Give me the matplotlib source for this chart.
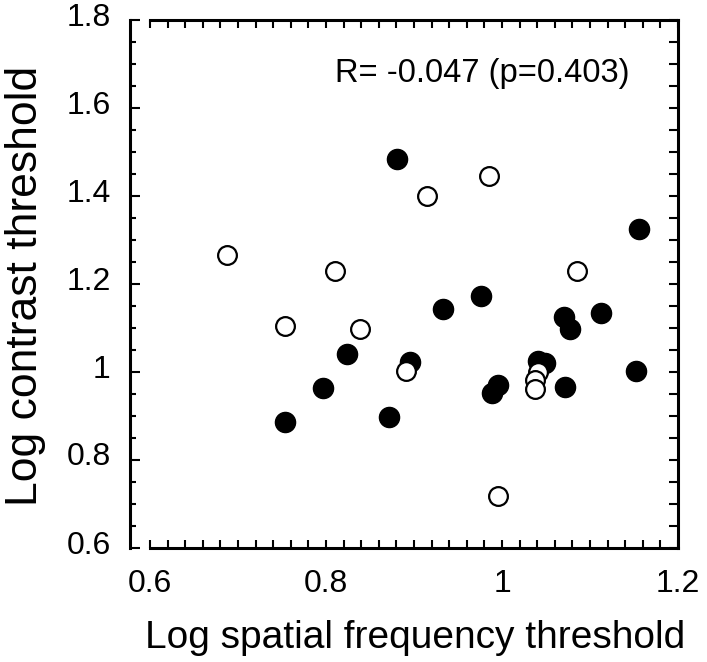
import numpy as np
import matplotlib
matplotlib.use("Agg")
import matplotlib.pyplot as plt
from matplotlib.ticker import MultipleLocator, FixedLocator
from matplotlib.transforms import ScaledTranslation

plt.rcParams["font.family"] = ["Liberation Sans", "DejaVu Sans"]

# filled circles
filled_x = [0.881, 1.156, 0.753, 0.797, 0.824, 0.872, 0.933, 0.976, 0.896,
            0.989, 0.996, 1.071, 1.077, 1.113, 1.041, 1.049, 1.072, 1.152]
filled_y = [1.484, 1.325, 0.886, 0.964, 1.041, 0.898, 1.143, 1.173, 1.023,
            0.952, 0.970, 1.126, 1.097, 1.135, 1.025, 1.020, 0.966, 1.002]

# open circles
open_x = [0.688, 0.753, 0.810, 0.839, 0.915, 0.985, 1.085, 0.891, 0.996,
          1.041, 1.037, 1.037]
open_y = [1.266, 1.105, 1.230, 1.098, 1.400, 1.446, 1.230, 1.002, 0.718,
          1.000, 0.981, 0.961]

x_ticks = [0.6, 0.8, 1.0, 1.2]
x_ticklabels = ["0.6", "0.8", "1", "1.2"]
y_ticks = [0.6, 0.8, 1.0, 1.2, 1.4, 1.6, 1.8]
y_ticklabels = ["0.6", "0.8", "1", "1.2", "1.4", "1.6", "1.8"]

W, H = 707, 662
fig = plt.figure(figsize=(W / 100, H / 100), dpi=100)
ax = fig.add_axes([150 / W, 1 - 548 / H, 528 / W, 528 / H])

ax.plot(filled_x, filled_y, "o", ms=14.5, mfc="black", mec="black", mew=1, zorder=3)
ax.plot(open_x, open_y, "o", ms=13.5, mfc="white", mec="black", mew=1.6, zorder=4)

ax.set_xlim(0.6, 1.2)
ax.set_ylim(0.6, 1.8)

lw = 2.2
for s in ax.spines.values():
    s.set_linewidth(lw)
ax.spines["left"].set_position(("outward", 20 * 72 / 100))

ax.xaxis.set_major_locator(FixedLocator(x_ticks))
ax.xaxis.set_minor_locator(MultipleLocator(0.02))
ax.set_xticklabels(x_ticklabels)
ax.yaxis.set_major_locator(FixedLocator(y_ticks))
ax.yaxis.set_minor_locator(MultipleLocator(0.05))
ax.set_yticklabels(y_ticklabels)

ax.tick_params(axis="x", which="both", direction="in", top=True, bottom=True,
               length=6, width=1.5, labelsize=23, pad=15)
ax.tick_params(axis="y", which="major", direction="in", left=True, right=True,
               length=7, width=1.5, labelsize=23, pad=14)
ax.tick_params(axis="y", which="minor", direction="in", left=True, right=True,
               length=4, width=1.5)
# right-side ticks all the same length
for t in ax.yaxis.get_minor_ticks(len(ax.yaxis.get_minorticklocs())):
    t.tick2line.set_markersize(6.5)
for t in ax.yaxis.get_major_ticks():
    t.tick2line.set_markersize(6.5)

for lab in ax.get_yticklabels():
    lab.set_transform(lab.get_transform() + ScaledTranslation(0, 6 / 100, fig.dpi_scale_trans))

ax.text((335 - 150) / 528, (548 - 82) / 528, "R= -0.047 (p=0.403)",
        transform=ax.transAxes, ha="left", va="baseline", fontsize=23.5)

fig.text(415 / W, 1 - 648 / H, "Log spatial frequency threshold",
         ha="center", va="baseline", fontsize=28)
fig.text(46 / W, 1 - 286 / H, "Log contrast threshold", rotation=90,
         ha="right", va="center", fontsize=32)

fig.savefig("out.png", dpi=100)
